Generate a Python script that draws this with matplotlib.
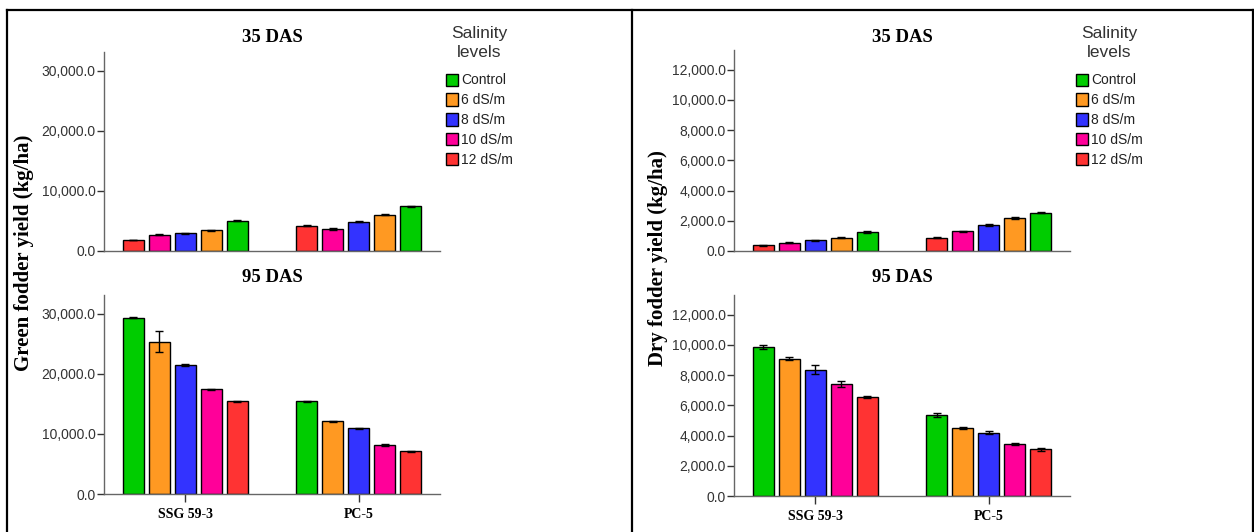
import matplotlib
matplotlib.use("Agg")
import matplotlib.pyplot as plt
from matplotlib.lines import Line2D
from matplotlib.ticker import FuncFormatter
import numpy as np

# ---------------- data ----------------
levels = ['Control', '6 dS/m', '8 dS/m', '10 dS/m', '12 dS/m']
colors = ['#00CC00', '#FF9922', '#3333FF', '#FF0099', '#FF3333']
cultivars = ['SSG 59-3', 'PC-5']
stages = ['35 DAS', '95 DAS']

# values in level order (Control, 6, 8, 10, 12); rows = cultivars
green_35 = [[5050, 3450, 2950, 2720, 1850],
            [7450, 6050, 4880, 3670, 4170]]
green_35_err = [[100, 80, 100, 100, 60],
                [100, 80, 100, 100, 80]]
green_95 = [[29380, 25380, 21480, 17470, 15470],
            [15420, 12130, 10960, 8130, 7120]]
green_95_err = [[100, 1700, 100, 100, 100],
                [120, 100, 100, 150, 80]]
dry_35 = [[1250, 880, 720, 540, 370],
          [2540, 2190, 1720, 1300, 880]]
dry_35_err = [[60, 30, 40, 30, 30],
              [50, 40, 50, 40, 40]]
dry_95 = [[9870, 9080, 8370, 7400, 6540],
          [5370, 4490, 4200, 3450, 3080]]
dry_95_err = [[120, 100, 300, 180, 80],
              [120, 60, 120, 60, 100]]

# drawing order of levels within each cluster
order_35 = [4, 3, 2, 1, 0]
order_95 = [0, 1, 2, 3, 4]

green_ticks = [0, 10000, 20000, 30000]
dry_ticks = [0, 2000, 4000, 6000, 8000, 10000, 12000]

# ---------------- layout ----------------
W, H = 1254, 532
fig = plt.figure(figsize=(W / 100, H / 100), dpi=100)

serif = 'Liberation Serif'
sans = 'Liberation Sans'

def fx(px):
    return px / W

def fy(py):
    return 1 - py / H

step = 26 / 174
width = 21 / 174

def make_axes(x0, x1, ytop, yzero):
    return fig.add_axes([fx(x0), fy(yzero), fx(x1 - x0), (yzero - ytop) / H])

def draw(ax, vals, errs, order, ymax, ticks, show_x):
    handles = []
    for slot, li in enumerate(order):
        xs = np.arange(len(cultivars)) + (slot - 2) * step
        v = [vals[c][li] for c in range(len(cultivars))]
        e = [errs[c][li] for c in range(len(cultivars))]
        b = ax.bar(xs, v, width=width, color=colors[li], edgecolor='black',
                   linewidth=1.0, label=levels[li], zorder=2)
        ax.errorbar(xs, v, yerr=e, fmt='none', ecolor='black', elinewidth=1.0,
                    capsize=3, capthick=1.0, zorder=3)
        handles.append((li, b))
    ax.set_xlim(-0.466, 1.466)
    ax.set_ylim(0, ymax)
    ax.set_yticks(ticks)
    ax.yaxis.set_major_formatter(FuncFormatter(lambda v, p: f'{v:,.1f}'))
    for s in ['top', 'right']:
        ax.spines[s].set_visible(False)
    for s in ['left', 'bottom']:
        ax.spines[s].set_color('#666666')
        ax.spines[s].set_linewidth(1.0)
    ax.tick_params(axis='y', length=5, width=1, color='#333333',
                   labelsize=10, labelcolor='#333333', pad=1)
    for t in ax.get_yticklabels():
        t.set_fontfamily(sans)
    if show_x:
        ax.set_xticks(range(len(cultivars)))
        ax.set_xticklabels(cultivars, fontfamily=serif, fontweight='bold',
                           fontsize=10)
        ax.tick_params(axis='x', length=6, width=1, color='#333333', pad=4)
    else:
        ax.set_xticks([])
    ax.set_facecolor('none')
    return handles

panels = [
    dict(off=0, vals=(green_35, green_95), errs=(green_35_err, green_95_err),
         ymax=33150, ticks=green_ticks, ylabel='Green fodder yield (kg/ha)',
         z35=251, t35=52, z95=494, t95=295, ylx=24, yly=253),
    dict(off=630, vals=(dry_35, dry_95), errs=(dry_35_err, dry_95_err),
         ymax=13300, ticks=dry_ticks, ylabel='Dry fodder yield (kg/ha)',
         z35=251, t35=50, z95=496, t95=295, ylx=658, yly=258),
]

for p in panels:
    off = p['off']
    ax1 = make_axes(off + 104, off + 440, p['t35'], p['z35'])
    h = draw(ax1, p['vals'][0], p['errs'][0], order_35, p['ymax'], p['ticks'], False)
    ax2 = make_axes(off + 104, off + 440, p['t95'], p['z95'])
    h2 = draw(ax2, p['vals'][1], p['errs'][1], order_95, p['ymax'], p['ticks'], True)

    fig.text(fx(off + 272), fy(37), stages[0], ha='center', va='center',
             fontfamily=serif, fontweight='bold', fontsize=13.5)
    fig.text(fx(off + 272), fy(278), stages[1], ha='center', va='center',
             fontfamily=serif, fontweight='bold', fontsize=13.5)
    fig.text(fx(p['ylx']), fy(p['yly']), p['ylabel'], rotation=90,
             ha='center', va='center', fontfamily=serif, fontweight='bold',
             fontsize=15)

    # legend (in level order)
    hd = sorted(h2, key=lambda t: t[0])
    leg = fig.legend([b for _, b in hd], [levels[i] for i, _ in hd],
                     loc='upper left',
                     bbox_to_anchor=(fx(off + 446), fy(26)),
                     frameon=False, title='Salinity\nlevels',
                     prop={'family': sans, 'size': 10},
                     title_fontproperties={'family': sans, 'size': 12.5},
                     handlelength=0.85, handleheight=1.0, handletextpad=0.25,
                     labelspacing=0.42, borderpad=0, borderaxespad=0)
    leg._legend_box.align = 'center'
    leg._legend_box.sep = 10
    leg.get_title().set_multialignment('center')
    leg.get_title().set_linespacing(1.3)
    for t in leg.get_texts():
        t.set_color('#222222')
    leg.get_title().set_color('#333333')

# panel borders
lw = 1.6
fig.add_artist(Line2D([fx(7), fx(1252.5)], [fy(10), fy(10)], color='black', lw=lw))
fig.add_artist(Line2D([fx(7), fx(7)], [fy(10), fy(532)], color='black', lw=lw))
fig.add_artist(Line2D([fx(631.5), fx(631.5)], [fy(10), fy(532)], color='black', lw=lw))
fig.add_artist(Line2D([fx(1252.5), fx(1252.5)], [fy(10), fy(532)], color='black', lw=lw))

fig.savefig('out.png', dpi=100)
